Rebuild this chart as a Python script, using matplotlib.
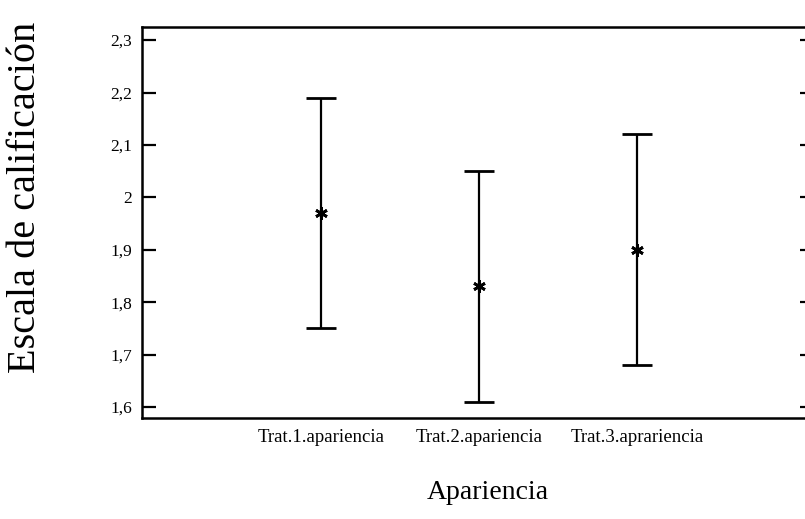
import matplotlib
matplotlib.use("Agg")
import matplotlib.pyplot as plt
from matplotlib.ticker import FixedLocator, FuncFormatter

# Data: treatment means with their interval half-width
categories = ["Trat.1.apariencia", "Trat.2.apariencia", "Trat.3.aprariencia"]
means = [1.97, 1.83, 1.90]
half_widths = [0.22, 0.22, 0.22]
y_ticks = [1.6, 1.7, 1.8, 1.9, 2.0, 2.1, 2.2, 2.3]

plt.rcParams["font.family"] = ["Liberation Serif", "DejaVu Serif"]

fig = plt.figure(figsize=(8.05, 5.19), dpi=100)
ax = fig.add_axes([0.1764, 0.1946, 0.835, 0.7534])

xs = list(range(1, len(categories) + 1))
ax.errorbar(xs, means, yerr=half_widths, fmt="none", ecolor="black",
            elinewidth=1.6, capsize=11, capthick=2.0)
ax.plot(xs, means, linestyle="none", marker=(6, 2, 0), markersize=9,
        markeredgewidth=2.0, color="black")

ax.set_xlim(-0.133, 4.12)
ax.set_ylim(1.579, 2.325)

ax.set_xticks(xs)
ax.set_xticklabels(categories, fontsize=13.5)
ax.tick_params(axis="x", length=0, pad=8)

ax.yaxis.set_major_locator(FixedLocator(y_ticks))
ax.yaxis.set_major_formatter(FuncFormatter(
    lambda v, p: ("%g" % round(v, 1)).replace(".", ",")))
ax.tick_params(axis="y", direction="in", length=10, width=1.6,
               labelsize=12.5, pad=7, left=True, right=True)

for side in ["left", "right", "top", "bottom"]:
    ax.spines[side].set_linewidth(1.8)

fig.text(0.032, 0.62, "Escala de calificación", rotation=90,
         fontsize=29, ha="center", va="center")
fig.text(0.606, 0.052, "Apariencia", fontsize=20, ha="center", va="center")

fig.savefig("out.png", dpi=100)
